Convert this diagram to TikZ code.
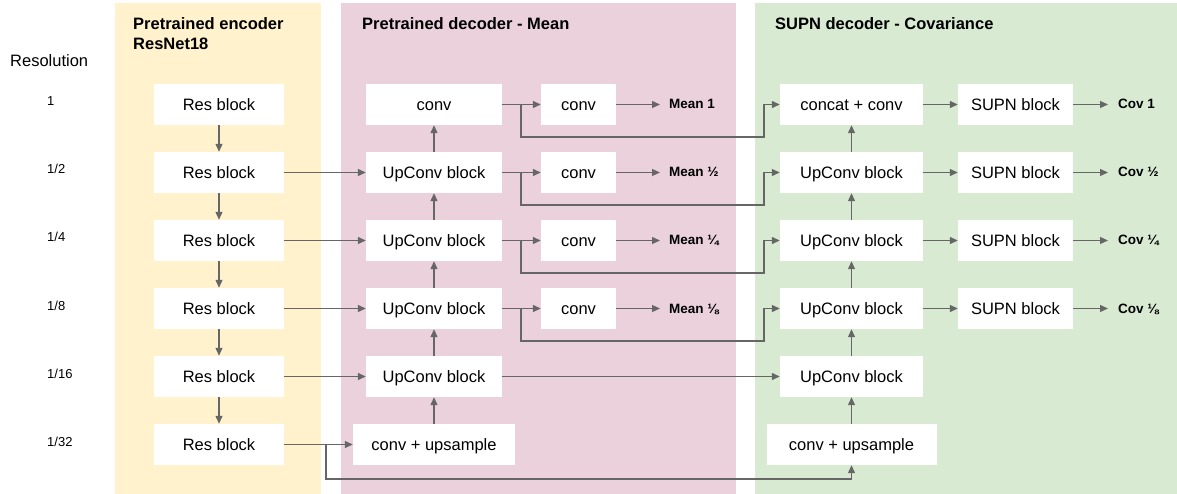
\documentclass[tikz,border=0pt]{standalone}
\usepackage{fontspec}
\setmainfont{Liberation Sans}
\usetikzlibrary{arrows.meta}
\definecolor{encbg}{HTML}{FFF2CC}
\definecolor{meanbg}{HTML}{EAD1DC}
\definecolor{covbg}{HTML}{D9EAD3}
\definecolor{linegray}{HTML}{666666}
\begin{document}
\begin{tikzpicture}[x=1pt,y=-1pt,
  blk/.style={fill=white, inner sep=0pt, minimum height=41pt, font=\fontsize{16.5}{19}\selectfont, text height=15pt, text depth=3.5pt},
  conn/.style={draw=linegray, line width=1.2pt, -{Triangle[length=8pt,width=7pt]}},
  outlbl/.style={font=\bfseries\fontsize{13.5}{16}\selectfont, inner sep=0pt, anchor=west, text height=12pt, text depth=3pt},
  reslbl/.style={font=\fontsize{13}{15}\selectfont, anchor=base west, inner sep=0pt},
  ttl/.style={font=\bfseries\fontsize{16.5}{20}\selectfont, anchor=base west, inner sep=0pt}
]
\useasboundingbox (0,0) rectangle (1177,494);
\fill[white] (0,0) rectangle (1177,494);
% panels
\fill[encbg] (115,3) rectangle (321,494);
\fill[meanbg] (341,3) rectangle (736,494);
\fill[covbg] (755,3) rectangle (1177,494);
% titles
\node[ttl] (t1a) at (133,29.5) {Pretrained encoder};
\node[ttl] (t1b) at (133,49.5) {ResNet18};
\node[ttl] (t2) at (362,29.5) {Pretrained decoder - Mean};
\node[ttl] (t3) at (775,29.5) {SUPN decoder - Covariance};
\node[anchor=base west, inner sep=0pt, font=\fontsize{16.5}{19}\selectfont] (resol) at (10,67) {Resolution};
\node[reslbl] (rl1) at (47,106) {1};
\node[reslbl] (rl2) at (47,174) {1/2};
\node[reslbl] (rl3) at (47,242) {1/4};
\node[reslbl] (rl4) at (47,310) {1/8};
\node[reslbl] (rl5) at (47,378) {1/16};
\node[reslbl] (rl6) at (47,446) {1/32};
% encoder
\foreach \i/\y in {1/104.5,2/172.5,3/240.5,4/308.5,5/376.5,6/444.5}{
  \node[blk, minimum width=130pt] (res\i) at (219,\y) {Res block};
}
% mean decoder
\node[blk, minimum width=136pt] (m1) at (434,104.5) {conv};
\foreach \i/\y in {2/172.5,3/240.5,4/308.5,5/376.5}{
  \node[blk, minimum width=136pt] (m\i) at (434,\y) {UpConv block};
}
\node[blk, minimum width=162pt] (m6) at (434,444.5) {conv + upsample};
\foreach \i/\y in {1/104.5,2/172.5,3/240.5,4/308.5}{
  \node[blk, minimum width=75pt] (mc\i) at (578.5,\y) {conv};
}
\node[outlbl] (ml1) at (669,104.5) {Mean 1};
\node[outlbl] (ml2) at (669,172.5) {Mean ½};
\node[outlbl] (ml3) at (669,240.5) {Mean ¼};
\node[outlbl] (ml4) at (669,308.5) {Mean ⅛};
% cov decoder
\node[blk, minimum width=143pt] (c1) at (851.5,104.5) {concat + conv};
\foreach \i/\y in {2/172.5,3/240.5,4/308.5,5/376.5}{
  \node[blk, minimum width=143pt] (c\i) at (851.5,\y) {UpConv block};
}
\node[blk, minimum width=170pt] (c6) at (851.5,444.5) {conv + upsample};
\foreach \i/\y in {1/104.5,2/172.5,3/240.5,4/308.5}{
  \node[blk, minimum width=115pt] (s\i) at (1015.5,\y) {SUPN block};
}
\node[outlbl] (cl1) at (1118,104.5) {Cov 1};
\node[outlbl] (cl2) at (1118,172.5) {Cov ½};
\node[outlbl] (cl3) at (1118,240.5) {Cov ¼};
\node[outlbl] (cl4) at (1118,308.5) {Cov ⅛};
% encoder arrows
\foreach \i/\j in {1/2,2/3,3/4,4/5,5/6}{
  \draw[conn] (res\i) -- (res\j);
}
\foreach \i in {2,3,4,5,6}{
  \draw[conn] (res\i) -- (m\i);
}
% mean up arrows
\foreach \i/\j in {6/5,5/4,4/3,3/2,2/1}{
  \draw[conn] (m\i) -- (m\j);
  \draw[conn] (c\i) -- (c\j);
}
% mean outputs and branches
\foreach \i/\y in {1/104.5,2/172.5,3/240.5,4/308.5}{
  \draw[conn] (m\i) -- (mc\i);
  \draw[conn, shorten >=9pt] (mc\i) -- (ml\i);
  \coordinate (b\i) at (521,\y);
  \coordinate (bt\i) at (764,\y+32.5);
  \draw[conn] (b\i) |- (bt\i) |- (c\i.west);
  \draw[conn] (c\i) -- (s\i);
  \draw[conn, shorten >=10pt] (s\i) -- (cl\i);
}
\draw[conn] (m5) -- (c5);
% bottom skip
\coordinate (bb) at (326,444.5);
\coordinate (bbt) at (326,479);
\draw[conn] (bb) -- (bbt) -| (c6.south);
\end{tikzpicture}
\end{document}
